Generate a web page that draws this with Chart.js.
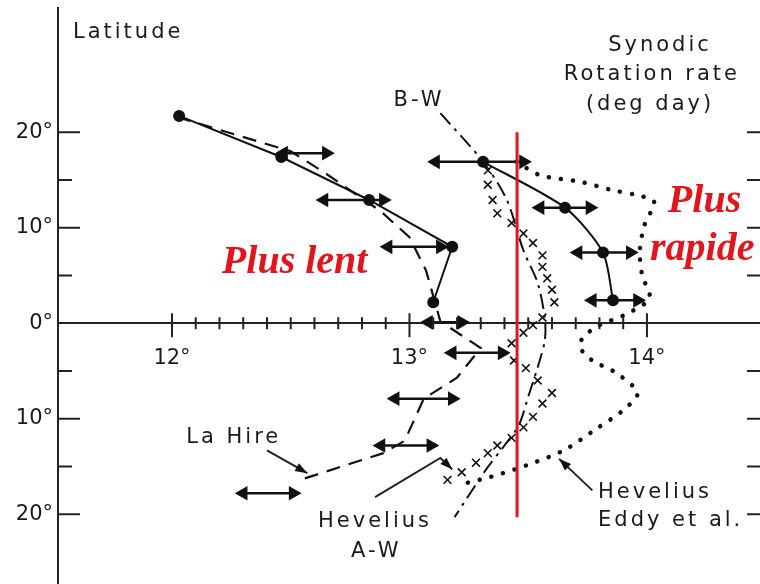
<!DOCTYPE html>
<html>
<head>
<meta charset="utf-8">
<script src="https://cdn.jsdelivr.net/npm/chart.js@4/dist/chart.umd.min.js"></script>
<style>
  html, body { margin: 0; padding: 0; background: #fff; }
  #wrap { width: 760px; height: 584px; }
</style>
</head>
<body>
<div id="wrap"><canvas id="chart" width="760" height="584"></canvas></div>
<script>
// rates in deg/day, latitudes in deg (south negative)
const slowRate = [12.03, 12.46, 12.83, 13.18, 13.10];
const slowLat = [21.7, 17.4, 12.9, 8.0, 2.2];

const laHireRate = [12.02, 12.50, 12.64, 12.88, 13.00, 13.07, 13.13, 13.30, 13.20, 13.06, 12.98, 12.89, 12.54];
const laHireLat = [21.6, 18.0, 15.8, 11.7, 9.0, 5.5, 0.2, -2.6, -5.7, -7.9, -12.3, -13.6, -16.4];

const bwRate = [13.31, 13.655, 13.815, 13.857];
const bwLat = [16.9, 12.1, 7.4, 2.4];

const awRate = [13.13, 13.31, 13.41, 13.48, 13.54, 13.57, 13.57, 13.54, 13.50, 13.46, 13.40, 13.32, 13.19];
const awLat = [22.0, 16.9, 12.9, 7.6, 4.2, 0.5, -1.8, -4.6, -7.7, -10.7, -12.8, -15.4, -20.3];

const crossRate = [13.33, 13.33, 13.35, 13.37, 13.43, 13.48, 13.52, 13.56, 13.56, 13.58, 13.60, 13.61, 13.56,
  13.52, 13.48, 13.43, 13.44, 13.49, 13.54, 13.60, 13.56, 13.52, 13.48, 13.43, 13.37, 13.33, 13.28, 13.22, 13.16];
const crossLat = [16.0, 14.5, 12.9, 11.5, 10.5, 9.4, 8.4, 7.1, 5.9, 4.7, 3.5, 2.2, 0.6,
  -0.2, -1.0, -2.1, -3.9, -4.7, -6.0, -7.3, -8.4, -9.8, -10.9, -12.0, -12.8, -13.6, -14.6, -15.6, -16.4];

const eddyRate = [13.45, 13.55, 13.72, 13.86, 13.96, 14.03, 13.99, 13.97, 13.98, 14.01, 13.90, 13.80, 13.73,
  13.72, 13.77, 13.87, 13.96, 13.90, 13.79, 13.65, 13.49, 13.34, 13.21];
const eddyLat = [16.9, 15.5, 14.8, 13.9, 13.4, 12.7, 10.3, 7.6, 5.0, 2.6, 0.8, -0.2, -1.5,
  -2.6, -3.9, -5.2, -7.3, -9.1, -11.0, -13.3, -14.9, -16.1, -16.9];

// error bars (double arrows)
const arrowLat = [17.8, 12.9, 8.0, 0.1, 16.9, 12.1, 7.4, 2.4, -3.1, -7.9, -12.8, -17.8];
const arrowLo = [12.47, 12.64, 12.91, 13.08, 13.11, 13.55, 13.71, 13.77, 13.18, 12.94, 12.88, 12.30];
const arrowHi = [12.65, 12.89, 13.13, 13.22, 13.48, 13.76, 13.93, 13.96, 13.39, 13.18, 13.09, 12.51];

// reference rate (red line)
const refRate = 13.453;
const refLat = [20.0, -20.3];

const xMajor = [12, 13, 14];
const yLabels = [-20, -10, 0, 10, 20];

const pts = (xs, ys) => xs.map((x, i) => ({ x, y: ys[i] }));

const datasets = [
  { data: pts([refRate, refRate], refLat), borderColor: "#e3141c", borderWidth: 3, pointRadius: 0, showLine: true },
  { data: pts(slowRate, slowLat), borderColor: "#111", backgroundColor: "#111", borderWidth: 2, pointRadius: 5, showLine: true },
  { data: pts(bwRate, bwLat), borderColor: "#111", backgroundColor: "#111", borderWidth: 2, pointRadius: 5, showLine: true, tension: 0.25 },
  { data: pts(laHireRate, laHireLat), borderColor: "#111", borderWidth: 2.2, borderDash: [14, 9], pointRadius: 0, showLine: true },
  { data: pts(awRate, awLat), borderColor: "#111", borderWidth: 2, borderDash: [15, 6, 3, 6], pointRadius: 0, showLine: true, tension: 0.3 },
  { data: pts(crossRate, crossLat), borderColor: "#111", borderWidth: 1.6, pointStyle: "crossRot", pointRadius: 5.5, showLine: false },
  { data: pts(eddyRate, eddyLat), borderColor: "#111", borderWidth: 4.5, borderDash: [0.1, 12], borderCapStyle: "round", pointRadius: 0, showLine: true, tension: 0.3 }
];

arrowLat.forEach((lat, i) => {
  datasets.push({
    data: [{ x: arrowLo[i], y: lat }, { x: arrowHi[i], y: lat }],
    borderColor: "#111", backgroundColor: "#111", borderWidth: 2.5,
    pointStyle: "triangle", pointRadius: 6, pointRotation: [-90, 90], showLine: true
  });
});

// annotation texts: [text, rate, lat, align, kind]
const notes = [
  ["Latitude", 11.583, 30.4, "left", "label"],
  ["Synodic", 14.055, 29.1, "center", "label"],
  ["Rotation rate", 14.021, 26.0, "center", "label"],
  ["(deg day)", 14.013, 22.9, "center", "label"],
  ["B-W", 13.04, 23.35, "center", "label"],
  ["La Hire", 12.26, -11.94, "center", "label"],
  ["Hevelius", 12.855, -20.8, "center", "label"],
  ["A-W", 12.86, -23.9, "center", "label"],
  ["Hevelius", 13.794, -17.7, "left", "label"],
  ["Eddy et al.", 13.794, -20.7, "left", "label"],
  ["Plus lent", 12.21, 5.24, "left", "red"],
  ["Plus", 14.088, 11.6, "left", "red"],
  ["rapide", 14.013, 6.6, "left", "red"]
];

// pointer lines to the curves, in data units, arrowhead at the last point
const pointers = [
  [[12.40, -13.3], [12.57, -15.7]],
  [[12.855, -18.2], [13.13, -14.1], [13.18, -15.3]],
  [[13.77, -17.5], [13.63, -14.2]]
];

const noPad = s => {
  s.paddingTop = 0; s.paddingBottom = 0; s.paddingLeft = 0; s.paddingRight = 0;
};

const figurePlugin = {
  id: "figure",
  afterDraw(chart) {
    const { ctx, scales: { x, y }, chartArea } = chart;
    const X = v => x.getPixelForValue(v);
    const Y = v => y.getPixelForValue(v);
    ctx.save();
    ctx.strokeStyle = "#222";
    ctx.lineWidth = 2;
    // x axis ticks crossing the zero line
    for (let k = 120; k <= 140; k++) {
      const v = k / 10;
      const major = k % 10 === 0;
      ctx.beginPath();
      ctx.moveTo(X(v), Y(0) - (major ? 10 : 6));
      ctx.lineTo(X(v), Y(0) + (major ? 14 : 6));
      ctx.stroke();
    }
    // latitude ticks, left (inward) and right edge
    for (let lat = -20; lat <= 20; lat += 5) {
      if (lat === 0) continue;
      const len = lat % 10 === 0 ? 22 : 14;
      ctx.beginPath();
      ctx.moveTo(chartArea.left, Y(lat));
      ctx.lineTo(chartArea.left + len, Y(lat));
      ctx.moveTo(chartArea.right - 13, Y(lat));
      ctx.lineTo(chartArea.right, Y(lat));
      ctx.stroke();
    }
    // pointers
    ctx.lineWidth = 2;
    ctx.fillStyle = "#111";
    pointers.forEach(p => {
      ctx.beginPath();
      p.forEach(([r, l], i) => i ? ctx.lineTo(X(r), Y(l)) : ctx.moveTo(X(r), Y(l)));
      ctx.stroke();
      const [r1, l1] = p[p.length - 2], [r2, l2] = p[p.length - 1];
      const a = Math.atan2(Y(l2) - Y(l1), X(r2) - X(r1));
      const tx = X(r2), ty = Y(l2);
      ctx.beginPath();
      ctx.moveTo(tx, ty);
      ctx.lineTo(tx - 13 * Math.cos(a - 0.35), ty - 13 * Math.sin(a - 0.35));
      ctx.lineTo(tx - 13 * Math.cos(a + 0.35), ty - 13 * Math.sin(a + 0.35));
      ctx.closePath();
      ctx.fill();
    });
    // texts
    notes.forEach(([t, r, l, align, kind]) => {
      ctx.textAlign = align;
      if (kind === "red") {
        ctx.font = "italic bold 40px 'Liberation Serif', serif";
        ctx.letterSpacing = "0px";
        ctx.textBaseline = "alphabetic";
        ctx.fillStyle = "#e3141c";
      } else {
        ctx.font = "21px 'DejaVu Sans', sans-serif";
        ctx.letterSpacing = "3px";
        ctx.textBaseline = "middle";
        ctx.fillStyle = "#1a1a1a";
      }
      ctx.fillText(t, X(r), Y(l));
    });
    ctx.restore();
  }
};

new Chart(document.getElementById("chart"), {
  type: "scatter",
  data: { datasets },
  options: {
    responsive: false,
    animation: false,
    devicePixelRatio: 1,
    layout: { autoPadding: false, padding: { top: 8, right: 0, bottom: 0, left: 0 } },
    plugins: { legend: { display: false }, tooltip: { enabled: false } },
    scales: {
      x: {
        type: "linear",
        position: { y: 0 },
        min: 11.52,
        max: 14.476,
        afterFit: noPad,
        grid: { display: false, drawTicks: false },
        border: { display: true, color: "#222", width: 2 },
        ticks: {
          stepSize: 1,
          padding: 23,
          color: "#1a1a1a",
          font: { family: "'DejaVu Sans', sans-serif", size: 21 },
          callback: v => (xMajor.includes(v) ? v + "°" : "")
        }
      },
      y: {
        type: "linear",
        position: "left",
        min: -27.3,
        max: 33,
        afterFit: s => { noPad(s); s.width = 58; },
        grid: { display: false, drawTicks: false },
        border: { display: true, color: "#222", width: 2 },
        ticks: {
          stepSize: 10,
          padding: 5,
          color: "#1a1a1a",
          font: { family: "'DejaVu Sans', sans-serif", size: 21 },
          callback: v => (yLabels.includes(v) ? Math.abs(v) + "°" : "")
        }
      }
    }
  },
  plugins: [figurePlugin]
});
</script>
</body>
</html>
